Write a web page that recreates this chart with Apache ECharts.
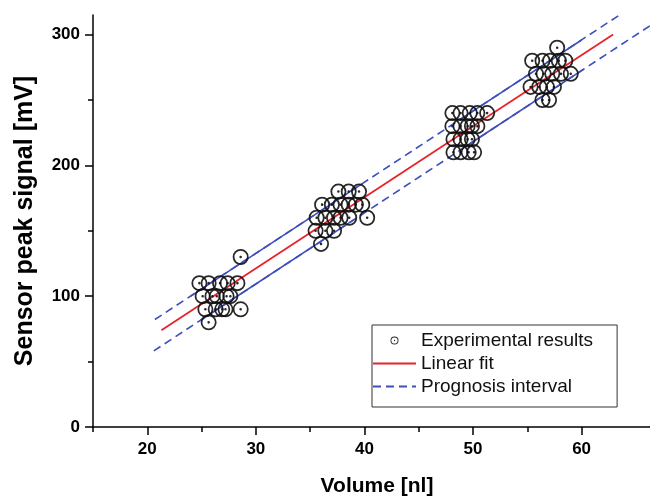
<!DOCTYPE html>
<html>
<head>
<meta charset="utf-8">
<script src="https://cdn.jsdelivr.net/npm/echarts@6/dist/echarts.min.js"></script>
<style>
  html, body { margin: 0; padding: 0; background: #fff; }
  #chart { width: 650px; height: 498px; }
</style>
</head>
<body>
<div id="chart"></div>
<script>
// Measured sensor peak signal [mV] against dispensed volume [nl]
const volumeSet1 = [24.8, 25.65, 26.7, 27.4, 28.3, 25.1, 26.0, 26.4, 27.3, 27.65, 25.35, 26.3, 26.9, 27.2, 28.6, 25.65, 28.6];
const signalSet1 = [110, 110, 110, 110, 110, 100, 100, 100, 100, 100, 90, 90, 90, 90, 90, 80, 130];

const volumeSet2 = [37.6, 38.55, 39.5, 36.1, 37.0, 37.8, 38.55, 39.2, 39.8, 35.6, 36.4, 37.2, 37.8, 38.6, 40.25, 35.5, 36.4, 37.2, 36.0];
const signalSet2 = [180, 180, 180, 170, 170, 170, 170, 170, 170, 160, 160, 160, 160, 160, 160, 150, 150, 150, 140];

const volumeSet3 = [48.1, 48.85, 49.7, 50.4, 51.3, 48.1, 48.85, 49.5, 49.9, 50.4, 48.2, 48.85, 49.5, 49.9, 48.2, 48.85, 49.6, 50.1];
const signalSet3 = [240, 240, 240, 240, 240, 230, 230, 230, 230, 230, 220, 220, 220, 220, 210, 210, 210, 210];

const volumeSet4 = [57.75, 55.45, 56.4, 57.1, 57.9, 58.5, 55.8, 56.5, 57.3, 58.1, 59.0, 55.3, 56.1, 56.8, 57.45, 56.4, 57.0];
const signalSet4 = [290, 280, 280, 280, 280, 280, 270, 270, 270, 270, 270, 260, 260, 260, 260, 250, 250];

// Linear fit and prognosis band end points [volume, signal]
const linearFit = [[21.3, 74.0], [62.9, 300.0]];
const prognosisUpper = [[20.7, 82.2], [63.4, 314.5]];
const prognosisLower = [[20.6, 58.2], [66.3, 306.8]];
// stretches where the band outline is drawn unbroken
const upperSolidA = [[24.0, 100.1], [39.8, 186.1]];
const upperSolidB = [[48.9, 235.6], [60.0, 295.9]];
const lowerSolidA = [[24.9, 81.6], [39.0, 158.3]];
const lowerSolidB = [[49.5, 215.4], [60.2, 273.6]];

// Axis ticks and labels
const xMajorTicks = [20, 30, 40, 50, 60];
const xMinorTicks = [15, 25, 35, 45, 55];
const yMajorTicks = [0, 100, 200, 300];
const yMinorTicks = [50, 150, 250];

const xRange = [15, 66.3];
const yRange = [0, 315];

const FONT = '"Liberation Sans", Arial, Helvetica, sans-serif';
const INK = '#111';
const RED = '#e8232b';
const BLUE = '#3e4fbd';

// ring with a centre dot, drawn as one filled outline
const RING = 'path://M0,10 A10,10 0 1,1 20,10 A10,10 0 1,1 0,10 Z ' +
             'M2.2,10 A7.8,7.8 0 1,0 17.8,10 A7.8,7.8 0 1,0 2.2,10 Z ' +
             'M8.4,10 A1.6,1.6 0 1,1 11.6,10 A1.6,1.6 0 1,1 8.4,10 Z';

function zipPoints(xs, ys) {
  return xs.map((x, i) => [x, ys[i]]);
}

const points = []
  .concat(zipPoints(volumeSet1, signalSet1))
  .concat(zipPoints(volumeSet2, signalSet2))
  .concat(zipPoints(volumeSet3, signalSet3))
  .concat(zipPoints(volumeSet4, signalSet4));

function bandLine(name, data, dashed) {
  return {
    name: name,
    type: 'line',
    data: data,
    symbol: 'none',
    silent: true,
    z: 2,
    lineStyle: { color: BLUE, width: 1.6, type: dashed ? [8, 5] : 'solid' },
    itemStyle: { color: BLUE }
  };
}

const chart = echarts.init(document.getElementById('chart'), null, { renderer: 'canvas' });

chart.setOption({
  animation: false,
  backgroundColor: '#fff',
  grid: { left: 93, right: 0, top: 15, bottom: 71, containLabel: false, outerBoundsMode: 'none' },
  legend: {
    orient: 'vertical',
    left: 372,
    top: 325,
    itemWidth: 43,
    itemHeight: 8,
    itemGap: 4,
    padding: [6, 24, 11, 0],
    borderColor: '#333',
    borderWidth: 1,
    backgroundColor: '#fff',
    textStyle: { fontFamily: FONT, fontSize: 19, color: INK },
    data: [
      { name: 'Experimental results', icon: RING },
      { name: 'Linear fit', itemStyle: { opacity: 0 } },
      { name: 'Prognosis interval', itemStyle: { opacity: 0 } }
    ]
  },
  xAxis: [
    {
      type: 'value',
      min: xRange[0],
      max: xRange[1],
      name: 'Volume [nl]',
      nameLocation: 'middle',
      nameGap: 49,
      nameTextStyle: { fontFamily: FONT, fontSize: 21, fontWeight: 'bold', color: '#000', padding: [0, 0, 0, 11] },
      axisLine: { show: true, onZero: false, lineStyle: { color: '#000', width: 1.5 } },
      axisTick: { show: true, inside: false, length: 8, customValues: xMajorTicks, lineStyle: { color: '#000', width: 1.5 } },
      axisLabel: { customValues: xMajorTicks, margin: 14, fontFamily: FONT, fontSize: 17, fontWeight: 'bold', color: '#000' },
      splitLine: { show: false }
    },
    {
      type: 'value',
      min: xRange[0],
      max: xRange[1],
      position: 'bottom',
      axisLine: { show: false },
      axisTick: { show: true, inside: false, length: 5, customValues: xMinorTicks, lineStyle: { color: '#000', width: 1.5 } },
      axisLabel: { show: false },
      splitLine: { show: false }
    }
  ],
  yAxis: [
    {
      type: 'value',
      min: yRange[0],
      max: yRange[1],
      name: 'Sensor peak signal [mV]',
      nameLocation: 'middle',
      nameGap: 55,
      nameTextStyle: { fontFamily: FONT, fontSize: 25, fontWeight: 'bold', color: '#000' },
      axisLine: { show: true, onZero: false, lineStyle: { color: '#000', width: 1.5 } },
      axisTick: { show: true, inside: false, length: 8, customValues: yMajorTicks, lineStyle: { color: '#000', width: 1.5 } },
      axisLabel: { customValues: yMajorTicks, margin: 13, fontFamily: FONT, fontSize: 17, fontWeight: 'bold', color: '#000' },
      splitLine: { show: false }
    },
    {
      type: 'value',
      min: yRange[0],
      max: yRange[1],
      position: 'left',
      axisLine: { show: false },
      axisTick: { show: true, inside: false, length: 5, customValues: yMinorTicks, lineStyle: { color: '#000', width: 1.5 } },
      axisLabel: { show: false },
      splitLine: { show: false }
    }
  ],
  series: [
    bandLine('Prognosis interval', prognosisUpper, true),
    bandLine('Prognosis interval', prognosisLower, true),
    bandLine('band-upper-a', upperSolidA, false),
    bandLine('band-upper-b', upperSolidB, false),
    bandLine('band-lower-a', lowerSolidA, false),
    bandLine('band-lower-b', lowerSolidB, false),
    {
      name: 'Linear fit',
      type: 'line',
      data: linearFit,
      symbol: 'none',
      silent: true,
      z: 3,
      lineStyle: { color: RED, width: 1.8 },
      itemStyle: { color: RED }
    },
    {
      name: 'Experimental results',
      type: 'scatter',
      data: points,
      symbol: RING,
      symbolSize: 16,
      z: 4,
      itemStyle: { color: INK, opacity: 0.9 }
    }
  ]
});
</script>
</body>
</html>
